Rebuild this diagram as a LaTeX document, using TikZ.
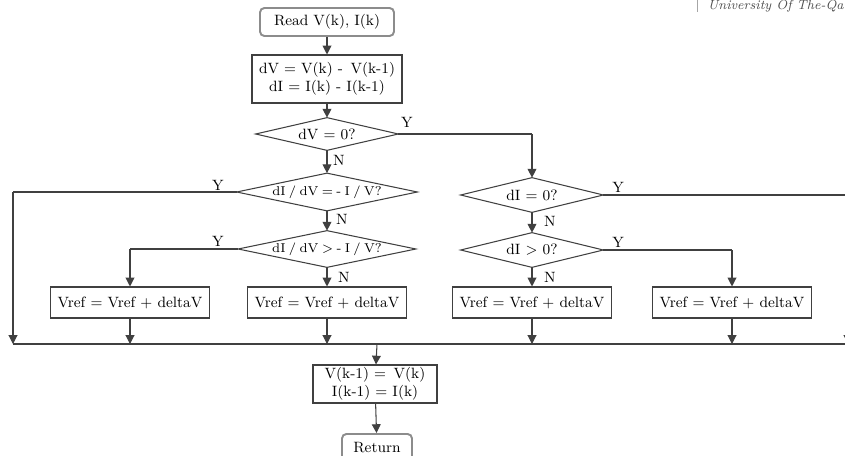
\documentclass[tikz,border=0pt]{standalone}
\usetikzlibrary{arrows.meta}

\newcommand{\narrowfont}{\fontsize{7.3}{9}\selectfont\spaceskip=0.26em plus 0.05em\relax}

\tikzset{
  every node/.style={font=\fontsize{8.5}{10}\selectfont},
  proc/.style={draw=black!75, line width=0.6pt, rectangle, inner sep=1pt, align=center},
  term/.style={draw=black!45, line width=1.1pt, rectangle, rounded corners=2.5pt, inner sep=1pt, align=center},
  decide/.style={rectangle, inner sep=0pt, align=center},
  narrow/.style={font={\narrowfont}},
  yn/.style={inner sep=1pt},
  flow/.style={draw=black!75, line width=0.6pt, -{Triangle[width=5pt,length=5pt]}},
  wire/.style={draw=black!75, line width=0.6pt}
}

\begin{document}
\begin{tikzpicture}[x=0.02cm,y=-0.02cm]

\useasboundingbox (0,0) rectangle (845,456);
\clip (0,0) rectangle (845,456);

% logo corner
\draw [black!35, line width=0.4pt] (697,0) -- (697,12);
\node [anchor=east, font=\fontsize{7.5}{8}\selectfont\itshape, text=black!70, inner sep=0pt] (logo) at (844,6) {University Of The-Qa};

% blocks
\node [term, minimum width=2.68cm, minimum height=0.56cm] (read) at (327,22) {Read V(k), I(k)};
\node [proc, minimum width=3.0cm, minimum height=0.96cm] (diff) at (327,79) {dV = V(k) -\, V(k-1)\\dI = I(k) - I(k-1)};
\node [decide, minimum width=2.84cm, minimum height=0.64cm] (dvz) at (327,134) {dV = 0?};
\node [decide, narrow, minimum width=3.6cm, minimum height=0.74cm] (deq) at (327,192) {dI / dV = - I / V?};
\node [decide, narrow, minimum width=3.54cm, minimum height=0.72cm] (dgt) at (327,249) {dI / dV > - I / V?};
\node [decide, minimum width=2.84cm, minimum height=0.68cm] (diz) at (532,195) {dI = 0?};
\node [decide, minimum width=2.84cm, minimum height=0.68cm] (dip) at (532,250) {dI > 0?};

\node [proc, minimum width=3.18cm, minimum height=0.62cm] (upa) at (130,302.5) {Vref = Vref + deltaV};
\node [proc, minimum width=3.18cm, minimum height=0.62cm] (upb) at (327,302.5) {Vref = Vref + deltaV};
\node [proc, minimum width=3.18cm, minimum height=0.62cm] (upc) at (532,302.5) {Vref = Vref + deltaV};
\node [proc, minimum width=3.18cm, minimum height=0.62cm] (upd) at (732,302.5) {Vref = Vref + deltaV};

\node [proc, minimum width=2.48cm, minimum height=0.76cm] (store) at (375,384) {V(k-1) = \,V(k)\\I(k-1) = I(k)};
\node [term, minimum width=1.4cm, minimum height=0.56cm] (ret) at (377,448) {Return};

% diamond outlines
\foreach \d in {dvz,deq,dgt,diz,dip}
  \draw [wire] (\d.north) -- (\d.east) -- (\d.south) -- (\d.west) -- cycle;

% joints
\coordinate (mL) at (13,344);
\coordinate (mR) at (848,344);
\coordinate (mC) at (377,344);
\coordinate (cA) at (532,134);
\coordinate (cB) at (13,192);
\coordinate (cC) at (130,249);
\coordinate (cD) at (848,195);
\coordinate (cE) at (732,250);

% main column
\draw [flow] (read) -- (diff);
\draw [flow] (diff) -- (dvz);
\draw [flow] (dvz) -- (deq);
\draw [flow] (deq) -- (dgt);
\draw [flow] (dgt) -- (upb);
\draw [wire] (dvz.east) -- (cA);
\draw [flow] (cA) -- (diz);
\draw [flow] (diz) -- (dip);
\draw [flow] (dip) -- (upc);

% yes branches
\draw [wire] (deq.west) -- (cB);
\draw [flow] (cB) -- (mL);
\draw [wire] (dgt.west) -- (cC);
\draw [flow] (cC) -- (upa);
\draw [wire] (diz.east) -- (cD);
\draw [flow] (cD) -- (mR);
\draw [wire] (dip.east) -- (cE);
\draw [flow] (cE) -- (upd);

% merge
\draw [flow] (upa) -- (upa |- mL);
\draw [flow] (upb) -- (upb |- mL);
\draw [flow] (upc) -- (upc |- mL);
\draw [flow] (upd) -- (upd |- mL);
\draw [wire] (mL) -- (mR);
\draw [flow] (mC) -- (store);
\draw [flow] (store) -- (ret);

% labels
\node [yn] (y1) at (407,122) {Y};
\node [yn] (y2) at (218,185) {Y};
\node [yn] (y3) at (218,241) {Y};
\node [yn] (y4) at (618,187) {Y};
\node [yn] (y5) at (618,242) {Y};
\node [yn] (n1) at (339,160) {N};
\node [yn] (n2) at (342,219) {N};
\node [yn] (n3) at (344,277) {N};
\node [yn] (n4) at (550,221) {N};
\node [yn] (n5) at (550,277) {N};
\end{tikzpicture}
\end{document}
